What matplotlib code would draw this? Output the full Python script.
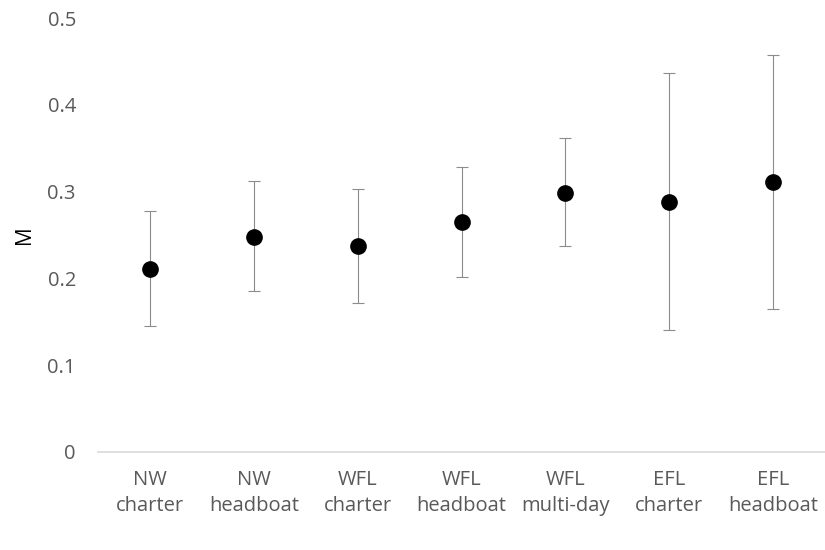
import matplotlib
matplotlib.use("Agg")
import matplotlib.pyplot as plt

categories = ["NW\ncharter", "NW\nheadboat", "WFL\ncharter", "WFL\nheadboat",
              "WFL\nmulti-day", "EFL\ncharter", "EFL\nheadboat"]
m_est = [0.211, 0.248, 0.237, 0.265, 0.299, 0.288, 0.311]
m_upper = [0.278, 0.312, 0.303, 0.328, 0.362, 0.437, 0.458]
m_lower = [0.145, 0.185, 0.172, 0.202, 0.237, 0.140, 0.165]

plt.rcParams['font.family'] = ['Open Sans', 'DejaVu Sans']

fig = plt.figure(figsize=(8.25, 5.5), dpi=100)
ax = fig.add_axes([0.119, 0.1787, 0.881, 0.788])

x = list(range(len(categories)))
err_lo = [m - lo for m, lo in zip(m_est, m_lower)]
err_hi = [hi - m for m, hi in zip(m_est, m_upper)]

ax.errorbar(x, m_est, yerr=[err_lo, err_hi], fmt="o", color="black",
            markersize=11, ecolor="#8c8c8c", elinewidth=0.8, capsize=4.3,
            capthick=0.8, zorder=3)

ax.set_xlim(-0.5, len(categories) - 0.5)
ax.set_ylim(0, 0.5)
ax.set_yticks([0, 0.1, 0.2, 0.3, 0.4, 0.5])
ax.set_yticklabels(["0", "0.1", "0.2", "0.3", "0.4", "0.5"])
ax.set_xticks(x)
ax.set_xticklabels(categories, linespacing=1.42)

for s in ["top", "right", "left"]:
    ax.spines[s].set_visible(False)
ax.spines["bottom"].set_color("#d9d9d9")
ax.spines["bottom"].set_linewidth(1.2)

ax.tick_params(axis="both", length=0, labelsize=14.5, labelcolor="#595959")
ax.tick_params(axis="y", pad=16)
ax.tick_params(axis="x", pad=13)

ax.set_ylabel("M", fontsize=15, color="black", labelpad=9)

fig.savefig("out.png", dpi=100)
